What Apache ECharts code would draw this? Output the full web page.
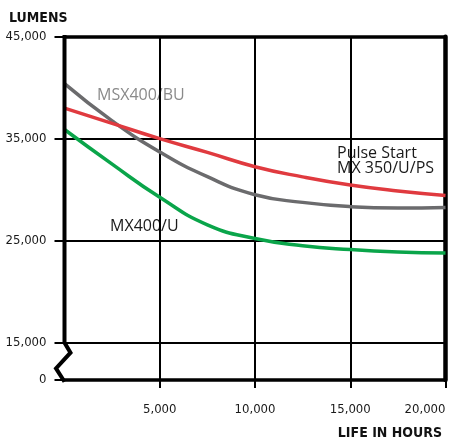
<!DOCTYPE html>
<html><head><meta charset="utf-8">
<script src="https://cdn.jsdelivr.net/npm/echarts@6/dist/echarts.min.js"></script>
<style>html,body{margin:0;padding:0;background:#fff}#c{width:449px;height:438px}</style>
</head><body><div id="c"></div>
<script>
// ---- data ----
const hours    = [0, 2500, 5000, 7500, 10000, 12500, 15000, 17500, 20000];
const msx400bu = [40400, 36750, 33700, 31270, 29500, 28750, 28330, 28200, 28250];
const mx350ps  = [38000, 36500, 35000, 33650, 32250, 31250, 30450, 29870, 29430];
const mx400u   = [35900, 32500, 29250, 26550, 25200, 24500, 24120, 23880, 23780];
const yTicks = [0, 15000, 25000, 35000, 45000];
const xTicks = [5000, 10000, 15000, 20000];
const yGrid  = [15000, 25000, 35000];
const xGrid  = [5000, 10000, 15000];
const yBreak = [0, 15000];

const NARROW = '"Liberation Sans Narrow","DejaVu Sans Condensed","Arial Narrow",sans-serif';
const LABEL  = '"Open Sans","Noto Sans",sans-serif';
const chart = echarts.init(document.getElementById('c'), null, {renderer: 'canvas'});
const pairs = arr => hours.map((h, i) => [h, arr[i]]);
const fmt = v => Number(v).toLocaleString('en-US');
const border = w => ({onZero: false, lineStyle: {color: '#000', width: w}});

const lineSeries = (name, arr, color) => ({
  name, type: 'line', data: pairs(arr), smooth: 0.5, symbol: 'none', z: 5,
  lineStyle: {color, width: 3.5}, silent: true
});

chart.setOption({
  animation: false,
  grid: {left: 64.5, right: 3.5, top: 36.7, bottom: 58},
  title: [
    {text: 'LUMENS', left: 4, top: 6, textStyle: {fontFamily: NARROW, fontWeight: 'bold', fontSize: 14, color: '#111'}},
    {text: 'LIFE IN HOURS', right: 2, top: 421, textStyle: {fontFamily: NARROW, fontWeight: 'bold', fontSize: 14, color: '#111'}}
  ],
  xAxis: [
    {type: 'value', min: 0, max: 20000, position: 'bottom', axisLine: border(3.5),
     axisTick: {show: false}, axisLabel: {show: false}, splitLine: {show: false}},
    {type: 'value', min: 0, max: 20000, position: 'top', axisLine: border(3.5),
     axisTick: {show: false}, axisLabel: {show: false}, splitLine: {show: false}},
    {type: 'value', min: 0, max: 20000, position: 'bottom', offset: 7, axisLine: {show: false},
     axisTick: {show: true, length: 8, customValues: xTicks, lineStyle: {color: '#000', width: 2}},
     axisLabel: {customValues: xTicks, margin: 16, formatter: fmt, alignMaxLabel: 'right',
       fontFamily: NARROW, fontSize: 13, color: '#1a1a1a'},
     splitLine: {show: false}}
  ],
  yAxis: [
    {type: 'value', min: 0, max: 45000, position: 'left', offset: 3,
     breaks: [{start: yBreak[0], end: yBreak[1], gap: '10.9%'}],
     breakArea: {show: false},
     axisLine: {show: false},
     axisTick: {show: true, length: 10, customValues: yTicks, lineStyle: {color: '#000', width: 2}},
     axisLabel: {customValues: yTicks, margin: 15, formatter: fmt,
       fontFamily: NARROW, fontSize: 13, color: '#1a1a1a'},
     splitLine: {show: false}},
    {type: 'value', min: 0, max: 45000, position: 'right', axisLine: border(4.5),
     axisTick: {show: false}, axisLabel: {show: false}, splitLine: {show: false}}
  ],
  series: [
    {type: 'line', data: [], z: 1, silent: true,
     markLine: {silent: true, symbol: 'none', label: {show: false},
       lineStyle: {color: '#000', width: 2, type: 'solid'},
       data: yGrid.map(v => ({yAxis: v})).concat(xGrid.map(v => ({xAxis: v})))}},
    lineSeries('MSX400/BU', msx400bu, '#6b6b6d'),
    lineSeries('Pulse Start MX 350/U/PS', mx350ps, '#e03a3f'),
    lineSeries('MX400/U', mx400u, '#0aa54a')
  ]
});

const p = (x, y) => chart.convertToPixel({xAxisIndex: 0, yAxisIndex: 0}, [x, y]);
const topP = p(0, 45000), b15 = p(0, yBreak[1]), b0 = p(0, yBreak[0]);
const span = b0[1] - b15[1];
chart.setOption({
  graphic: [
    {type: 'polyline', z: 10, silent: true,
     shape: {points: [[topP[0], topP[1] - 1.75], b15,
       [b15[0] + 6, b15[1] + 0.27 * span], [b15[0] - 8.5, b15[1] + 0.69 * span], [b0[0], b0[1] + 1.75]]},
     style: {stroke: '#000', lineWidth: 4, fill: null, lineJoin: 'miter'}},
    {type: 'text', x: 97, y: 95, silent: true,
     style: {text: 'MSX400/BU', font: '16px ' + LABEL, fill: '#8a8a8a', verticalAlign: 'middle'}},
    {type: 'text', x: 110, y: 226, silent: true,
     style: {text: 'MX400/U', font: '16px ' + LABEL, fill: '#1a1a1a', verticalAlign: 'middle'}},
    {type: 'text', x: 337, y: 153, silent: true,
     style: {text: 'Pulse Start', font: '16px ' + LABEL, fill: '#1a1a1a', verticalAlign: 'middle'}},
    {type: 'text', x: 337, y: 168, silent: true,
     style: {text: 'MX 350/U/PS', font: '16px ' + LABEL, fill: '#1a1a1a', verticalAlign: 'middle'}}
  ]
});
</script></body></html>
